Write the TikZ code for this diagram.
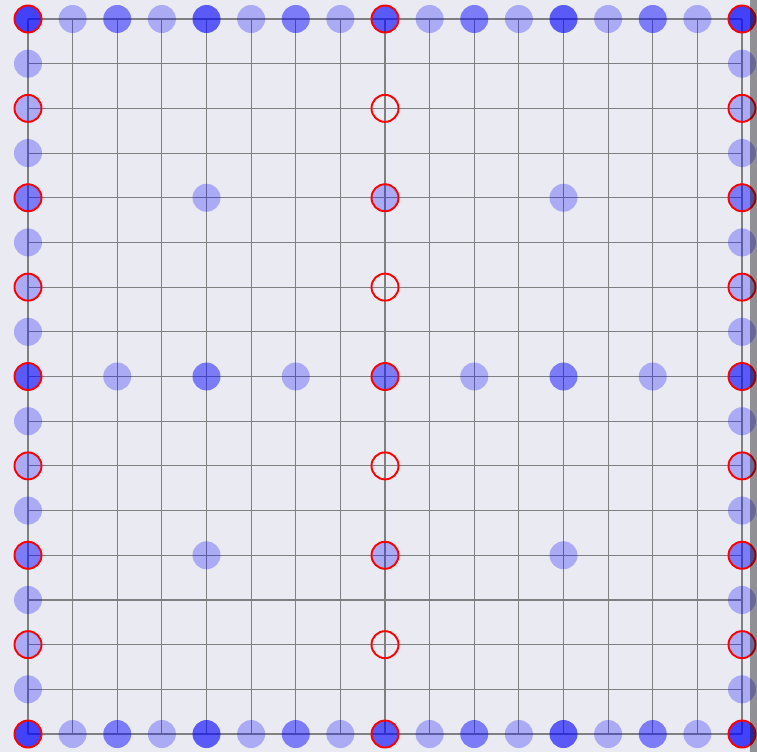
\documentclass[tikz,border=0pt]{standalone}
\definecolor{bgc}{RGB}{234,234,242}
\definecolor{gridc}{RGB}{128,128,130}
\newcommand\mydot[3]{\ifcase#3\relax
  \or\fill[blue,fill opacity=0.27] (#1,#2) circle[radius=14pt];%
  \or\fill[blue,fill opacity=0.467] (#1,#2) circle[radius=14pt];%
  \or\fill[blue,fill opacity=0.611] (#1,#2) circle[radius=14pt];%
  \or\fill[blue,fill opacity=0.716] (#1,#2) circle[radius=14pt];%
  \fi}
\begin{document}
\begin{tikzpicture}[x=44.625pt,y=-44.69pt,
  ring/.style={draw=red, line width=1.9pt},
  gridline/.style={gridc, line width=1.1pt}]
\useasboundingbox (-0.6275,-0.4252) rectangle (16.3362,16.4019);
\fill[bgc] (-0.6275,-0.4252) rectangle (16.3362,16.4019);
\foreach \k in {0,...,16} {
  \draw[gridline] (\k,0) -- (\k,16);
  \draw[gridline] (0,\k) -- (16,\k);
}
% top and bottom rows
\foreach \j in {0,16} {
  \foreach \i/\n in {0/4,1/1,2/2,3/1,4/3,5/1,6/2,7/1,8/3,9/1,10/2,11/1,12/3,13/1,14/2,15/1,16/4} {
    \mydot{\i}{\j}{\n}
  }
}
% left and right columns
\foreach \i in {0,16} {
  \foreach \j/\n in {1/1,2/1,3/1,4/2,5/1,6/1,7/1,8/3,9/1,10/1,11/1,12/2,13/1,14/1,15/1} {
    \mydot{\i}{\j}{\n}
  }
}
% middle column
\foreach \j/\n in {4/1,8/2,12/1} {\mydot{8}{\j}{\n}}
% middle row
\foreach \i/\n in {2/1,4/2,6/1,10/1,12/2,14/1} {\mydot{\i}{8}{\n}}
% rows 4 and 12
\foreach \j in {4,12} {\foreach \i in {4,12} {\mydot{\i}{\j}{1}}}
% red rings
\foreach \j in {0,2,...,16} {
  \foreach \i in {0,8,16} {\draw[ring] (\i,\j) circle[radius=13.5pt];}
}
% right edge bar
\fill[black,opacity=0.38] (16.19,-0.4252) rectangle (16.3362,16.4019);
\end{tikzpicture}
\end{document}
